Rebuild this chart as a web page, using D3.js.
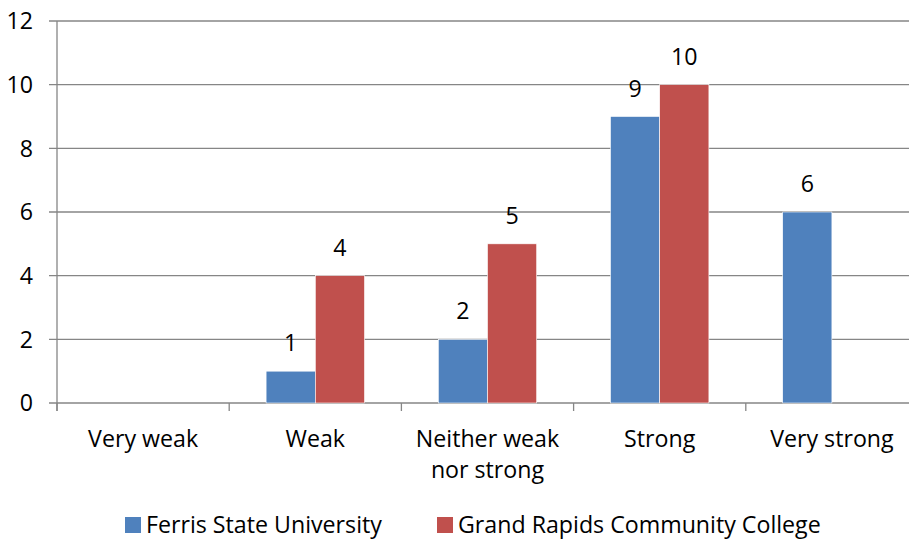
<!DOCTYPE html>
<html><head><meta charset="utf-8">
<script src="https://cdn.jsdelivr.net/npm/d3@7"></script>
<style>body{margin:0;background:#fff}svg{display:block}text{font-family:"Open Sans",Lato,sans-serif;fill:#000}</style>
</head><body><svg id="c" width="909" height="540"></svg>
<script>
const categories = ["Very weak","Weak","Neither weak nor strong","Strong","Very strong"];
const categoryLines = [["Very weak"],["Weak"],["Neither weak","nor strong"],["Strong"],["Very strong"]];
const seriesNames = ["Ferris State University","Grand Rapids Community College"];
const ferris = [0,1,2,9,6];
const grcc = [0,4,5,10,0];
const yTicks = [0,2,4,6,8,10,12];
const colors = ["#4F81BD","#C0504D"];

(function(){
const svg = d3.select("#c");
const pL = 57, pR = 918, pT = 21, pB = 403;
const fs = 23.2;
const x = d3.scaleBand().domain(categories).range([pL,pR]).paddingInner(0).paddingOuter(0);
const bw = x.bandwidth()/3.5;
const x1 = d3.scaleBand().domain([0,1]).range([0,2*bw]);
const y = d3.scaleLinear().domain([0,12]).range([pB,pT]);

svg.append("g").selectAll("line").data(yTicks).join("line")
  .attr("x1",49).attr("x2",909).attr("y1",d=>y(d)).attr("y2",d=>y(d))
  .attr("stroke","#868686").attr("stroke-width",1.3);
svg.append("line").attr("x1",pL).attr("x2",pL).attr("y1",pT).attr("y2",pB+8)
  .attr("stroke","#868686").attr("stroke-width",1.3);
svg.append("g").selectAll("line").data(categories).join("line")
  .attr("x1",d=>x(d)).attr("x2",d=>x(d)).attr("y1",pB).attr("y2",pB+8)
  .attr("stroke","#868686").attr("stroke-width",1.3);
svg.append("g").selectAll("text").data(yTicks).join("text")
  .attr("x",33).attr("y",d=>y(d)).attr("dy","0.36em").attr("text-anchor","end")
  .attr("font-size",fs).text(d=>d);

const series = [ferris,grcc];
series.forEach((vals,si)=>{
  const g = svg.append("g");
  const data = categories.map((c,i)=>({c,v:vals[i]}));
  g.selectAll("rect").data(data.filter(d=>d.v>0)).join("rect")
    .attr("x",d=>x(d.c)+x.bandwidth()/2-bw+x1(si))
    .attr("width",bw).attr("y",d=>y(d.v)).attr("height",d=>y(0)-y(d.v))
    .attr("fill",colors[si]).attr("stroke","#fff").attr("stroke-width",0.6);
  g.selectAll("text").data(data.filter(d=>d.v>0)).join("text")
    .attr("x",d=>x(d.c)+x.bandwidth()/2-bw+x1(si)+bw/2)
    .attr("y",d=>y(d.v)-20).attr("text-anchor","middle").attr("font-size",fs).text(d=>d.v);
});

const cl = svg.append("g").selectAll("text").data(categories).join("text")
  .attr("x",d=>x(d)+x.bandwidth()/2).attr("y",447).attr("text-anchor","middle").attr("font-size",fs);
cl.each(function(d,i){
  d3.select(this).selectAll("tspan").data(categoryLines[i]).join("tspan")
    .attr("x",x(d)+x.bandwidth()/2).attr("dy",(t,j)=>j===0?0:31).text(t=>t);
});

const legX = [125,437];
const lg = svg.append("g").selectAll("g").data(seriesNames).join("g")
  .attr("transform",(d,i)=>`translate(${legX[i]},517)`);
lg.append("rect").attr("width",16).attr("height",16).attr("fill",(d,i)=>colors[i]);
lg.append("text").attr("x",21).attr("y",8).attr("dy","0.36em").attr("font-size",fs).text(d=>d);
})();
</script></body></html>
